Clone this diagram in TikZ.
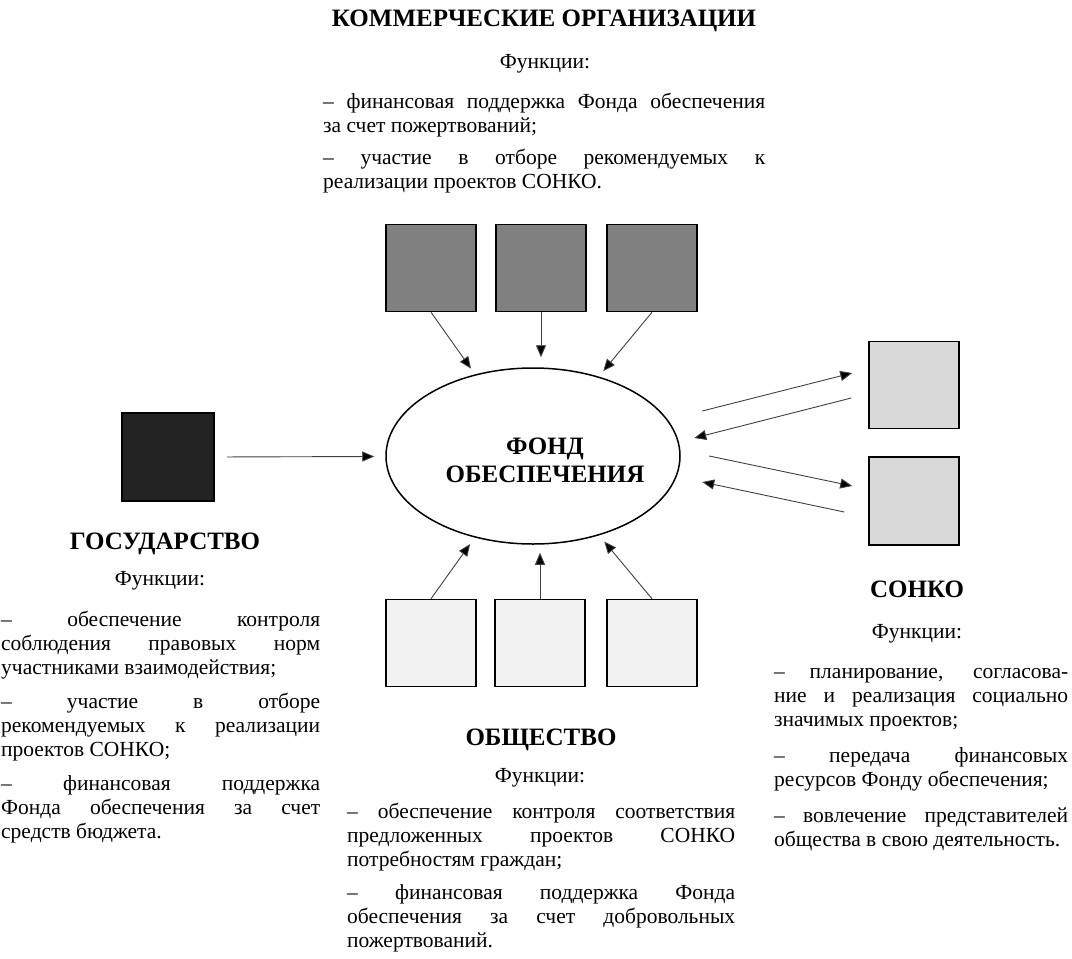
\documentclass[tikz,border=0pt]{standalone}
\usepackage{fontspec}
\setmainfont{Liberation Serif}
\usetikzlibrary{positioning,shapes.geometric,arrows.meta}

\definecolor{comgray}{HTML}{808080}
\definecolor{govdark}{HTML}{222222}
\definecolor{sonkogray}{HTML}{D9D9D9}
\definecolor{obslight}{HTML}{F2F2F2}

\newcommand\bodyfont{\fontsize{21.5}{24}\selectfont}
\newcommand\headfont{\fontsize{25}{28}\selectfont\bfseries}

\begin{document}
\begin{tikzpicture}[x=1pt,y=-1pt,
    sq/.style={draw=black,line width=1.5pt,minimum width=90,minimum height=87,inner sep=0},
    arr/.style={draw=black!75,line width=0.9pt,-{Triangle[length=12pt,width=10pt,fill=black]}},
    head/.style={font=\headfont,anchor=base,inner sep=0},
    fun/.style={font=\bodyfont,anchor=base,inner sep=0},
    func/.style 2 args={font=\bodyfont,text width=#1,align=justify,anchor=north west,inner sep=0,
      execute at begin node={\setlength\parskip{#2}\hyphenpenalty=10000\tolerance=10000\strut}}]

    \useasboundingbox (0,0) rectangle (1072,959);

    %centre
    \node[ellipse,draw,line width=1.5pt,minimum width=294,minimum height=176,inner sep=0,
      label={[font=\headfont,align=center,xshift=12pt,yshift=-4pt]center:ФОНД\\ОБЕСПЕЧЕНИЯ}]
      (fund) at (533,456) {};

    %participants
    \foreach \i/\x in {1/431,2/541,3/652}
      \node[sq,fill=comgray] (com\i) at (\x,268) {};
    \foreach \i/\x in {1/431,2/540,3/652}
      \node[sq,fill=obslight] (obs\i) at (\x,643) {};
    \node[sq,fill=govdark,minimum width=92,minimum height=88] (gov) at (168,457) {};
    \node[sq,fill=sonkogray] (son1) at (914,385) {};
    \node[sq,fill=sonkogray,minimum height=88] (son2) at (914,501) {};

    %arrows
    \foreach \i in {1,3} {
      \draw[arr,shorten >=7pt] (com\i.south) -- (fund);
      \draw[arr,shorten >=8pt] (obs\i.north) -- (fund);
    }
    \draw[arr,shorten >=10pt] (com2.south) -- (com2.south |- fund.north);
    \draw[arr,shorten >=8pt] (obs2.north) -- (obs2.north |- fund.south);
    \draw[arr,shorten <=12pt,shorten >=11pt] (gov.east) -- (fund);
    \draw[arr] ([shift={(-166,26)}]son1.west) -- ([shift={(-16,-12)}]son1.west);
    \draw[arr] ([shift={(-17,13)}]son1.west) -- ([shift={(-174,53)}]son1.west);
    \draw[arr] ([shift={(-159,-45)}]son2.west) -- ([shift={(-16,-15)}]son2.west);
    \draw[arr] ([shift={(-24,11)}]son2.west) -- ([shift={(-166,-19)}]son2.west);

    %commercial
    \node[head] (comhead) at (544,26) {КОММЕРЧЕСКИЕ ОРГАНИЗАЦИИ};
    \node[fun] (comfun) at (545,68) {Функции:};
    \node[func={442}{8pt}] (comtext) at (323,91) {%
      – финансовая поддержка Фонда обеспечения\linebreak за счет пожертвований;\par
      – участие в отборе рекомендуемых к\linebreak реализации проектов СОНКО.};

    %state
    \node[head] (govhead) at (165,549) {ГОСУДАРСТВО};
    \node[fun] (govfun) at (160,585) {Функции:};
    \node[func={319}{10pt}] (govtext) at (1,609) {%
      – обеспечение контроля\linebreak соблюдения правовых норм\linebreak участниками взаимодействия;\par
      – участие в отборе\linebreak рекомендуемых к реализации\linebreak проектов СОНКО;\par
      – финансовая поддержка\linebreak Фонда обеспечения за счет\linebreak средств бюджета.};

    %society
    \node[head] (obshead) at (541,745) {ОБЩЕСТВО};
    \node[fun] (obsfun) at (540,782) {Функции:};
    \node[func={388}{9pt}] (obstext) at (347,801) {%
      – обеспечение контроля соответствия\linebreak предложенных проектов СОНКО\linebreak потребностям граждан;\par
      – финансовая поддержка Фонда\linebreak обеспечения за счет добровольных\linebreak пожертвований.};

    %sonko
    \node[head] (sonhead) at (917,597) {СОНКО};
    \node[fun] (sonfun) at (917,638) {Функции:};
    \node[func={294}{12pt}] (sontext) at (774,661) {%
      – планирование, согласова-\linebreak ние и реализация социально\linebreak значимых проектов;\par
      – передача финансовых\linebreak ресурсов Фонду обеспечения;\par
      – вовлечение представителей\linebreak общества в свою деятельность.};

\end{tikzpicture}
\end{document}
